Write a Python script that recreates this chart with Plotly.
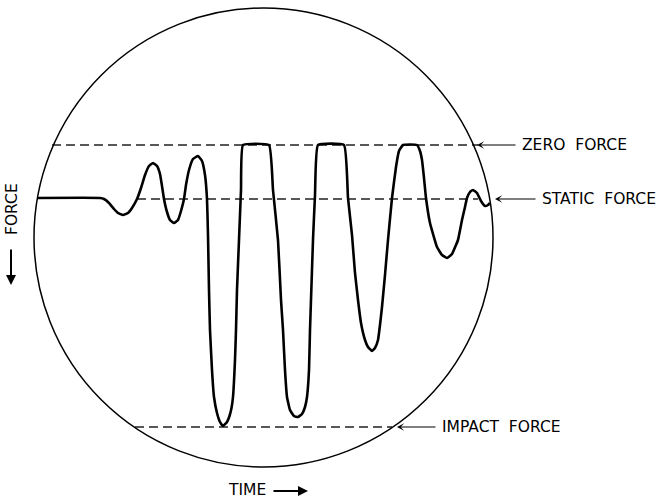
import plotly.graph_objects as go

# Oscilloscope trace (drawing units: time to the right, force downward)
trace_time = [37, 100, 104, 109, 114, 118, 123, 128, 132, 137, 141, 145, 149, 153, 157, 160, 162,
              164, 167, 170, 174, 178, 181, 184, 186, 189, 193, 198, 202, 205, 207, 208, 209, 210,
              212, 214, 217, 220, 223, 227, 229.5, 231.5, 233, 235, 236, 237, 239, 241, 243, 269,
              273, 278, 281, 283, 285, 287, 290, 294, 298, 302, 305, 307, 309, 310, 311, 313, 315,
              318, 344, 348, 352, 355, 358, 361, 365, 368, 372, 375, 378, 380, 382, 385, 388, 392,
              396, 399, 403, 417, 420, 422, 424, 426, 430, 437, 442, 447, 452, 456, 458, 462, 465,
              467, 470, 473, 477, 481, 485, 488, 490]
trace_force = [198, 198, 199, 203, 209, 213, 215, 213, 208, 199, 188, 175, 166, 163, 166, 174, 186,
               199, 212, 220, 223, 220, 211, 199, 185, 170, 159, 156, 161, 175, 199, 235, 290, 330,
               370, 397, 413, 422, 426, 422, 416, 408, 397, 360, 330, 290, 240, 190, 145, 145,
               190, 240, 300, 330, 370, 397, 410, 416, 417, 414, 407, 397, 370, 330, 300, 240, 195,
               145, 145, 198, 235, 273, 300, 323, 340, 347, 351, 348, 340, 325, 307, 275, 240, 198,
               167, 151, 145, 145, 151, 160, 178, 198, 223, 247, 255, 258, 254, 245, 240, 220, 207,
               198, 192, 190, 193, 201, 206, 205, 203]

level_names = ["ZERO  FORCE", "STATIC  FORCE", "IMPACT  FORCE"]
level_force = [145, 199, 427]
level_start = [52, 137, 135]
level_end = [478, 478, 392]
arrow_tip = [477, 495, 397]
arrow_tail = [517, 537, 437]

fig = go.Figure()

# reference levels (dashed)
for name, f, s, e in zip(level_names, level_force, level_start, level_end):
    fig.add_trace(go.Scatter(x=[s, e], y=[f, f], mode="lines",
                             line=dict(color="#222", width=1.3, dash="9px,5px"),
                             hoverinfo="skip", showlegend=False))

# the trace
fig.add_trace(go.Scatter(x=trace_time, y=trace_force, mode="lines",
                         line=dict(color="black", width=2.6, shape="spline", smoothing=0.35),
                         showlegend=False))

# screen circle
fig.add_shape(type="circle", xref="x", yref="y", x0=34, x1=493, y0=8, y1=467,
              line=dict(color="black", width=1.5))

font = dict(family="DejaVu Sans, Arial, sans-serif", size=15.5, color="black")
for name, f, tip, tail in zip(level_names, level_force, arrow_tip, arrow_tail):
    fig.add_annotation(x=tip, y=f, ax=tail, ay=f, xref="x", yref="y", axref="x", ayref="y",
                       text="", showarrow=True, arrowhead=3, arrowsize=1.1, arrowwidth=1.1,
                       arrowcolor="black", standoff=0, startstandoff=0)
    fig.add_annotation(x=tail + 3, y=f, xref="x", yref="y", text=name, showarrow=False,
                       xanchor="left", yanchor="middle", font=font)

# axis captions
fig.add_annotation(x=247, y=490, xref="x", yref="y", text="TIME", showarrow=False,
                   xanchor="center", yanchor="middle", font=font)
fig.add_annotation(x=308, y=491, ax=272, ay=491, xref="x", yref="y", axref="x", ayref="y",
                   text="", showarrow=True, arrowhead=2, arrowsize=1.0, arrowwidth=2,
                   arrowcolor="black", standoff=0, startstandoff=0)
fig.add_annotation(x=12, y=209, xref="x", yref="y", text="FORCE", showarrow=False, textangle=-90,
                   xanchor="center", yanchor="middle", font=font)
fig.add_annotation(x=11, y=285, ax=11, ay=248, xref="x", yref="y", axref="x", ayref="y",
                   text="", showarrow=True, arrowhead=2, arrowsize=1.0, arrowwidth=2,
                   arrowcolor="black", standoff=0, startstandoff=0)

fig.update_layout(width=657, height=501, margin=dict(l=0, r=0, t=0, b=0),
                  paper_bgcolor="white", plot_bgcolor="white",
                  xaxis=dict(range=[0, 657], visible=False, fixedrange=True),
                  yaxis=dict(range=[501, 0], visible=False, fixedrange=True))

fig.write_html("out.html", config={"displayModeBar": False},
               post_script="document.body.style.margin='0';document.body.style.overflow='hidden';")
